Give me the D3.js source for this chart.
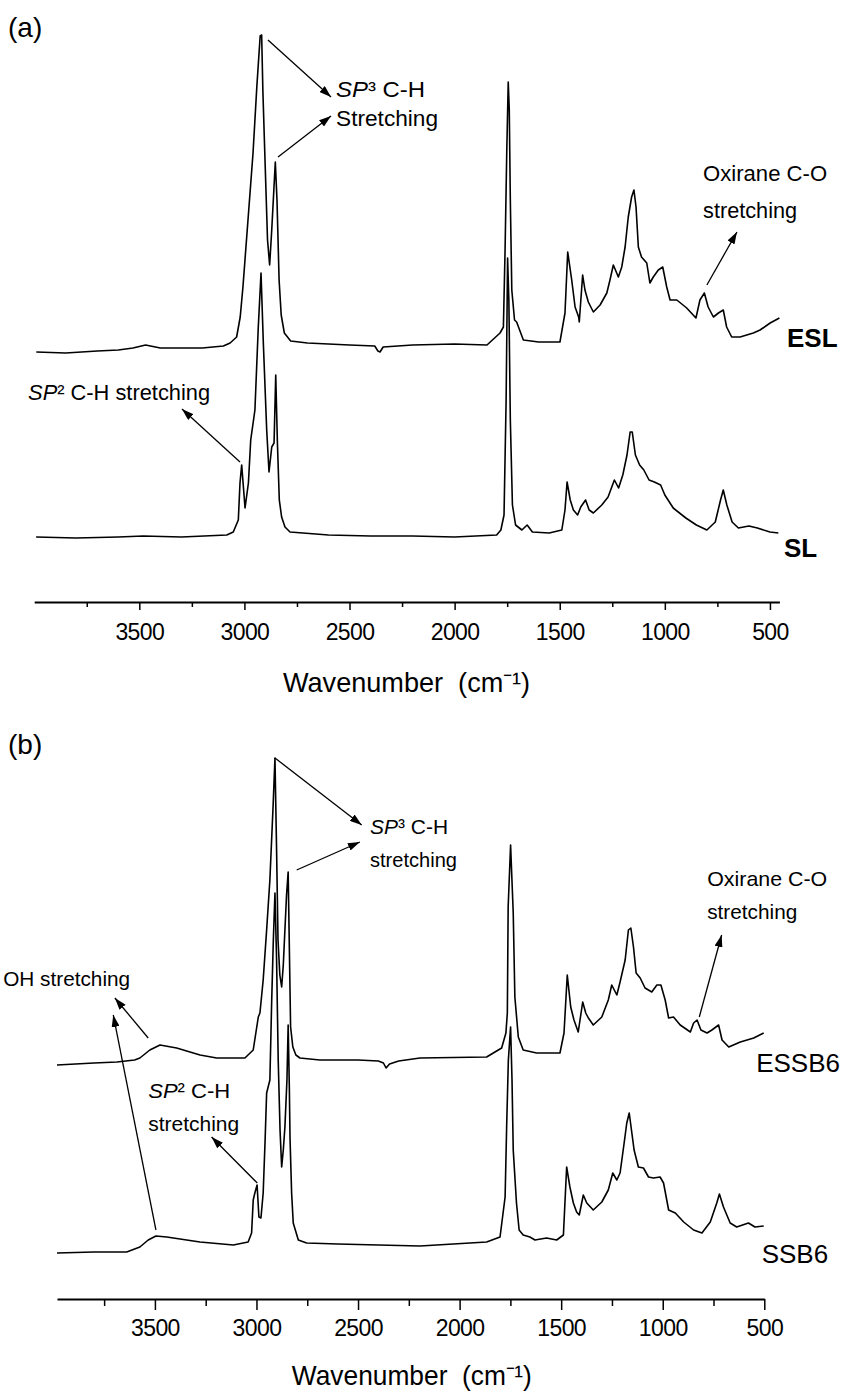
<!DOCTYPE html>
<html>
<head>
<meta charset="utf-8">
<script src="https://cdn.jsdelivr.net/npm/d3@7"></script>
<style>
  body { margin: 0; background: #fff; }
  svg text { font-family: "Liberation Sans", Arial, Helvetica, sans-serif; fill: #000; white-space: pre; }
</style>
</head>
<body>
<svg id="chart" width="843" height="1392"></svg>
<script>
// ---------------- DATA (wavenumber cm^-1, stacked absorbance a.u.) ----------------
const majorTicks = [3500, 3000, 2500, 2000, 1500, 1000, 500];
const minorTicks = [3750, 3250, 2750, 2250, 1750, 1250, 750];

const ESL = [[3990,2.50],[3850,2.49],[3700,2.51],[3600,2.52],[3530,2.54],[3470,2.57],[3400,2.54],[3200,2.54],[3100,2.56],[3068,2.59],[3037,2.65],[3020,2.85],[3007,3.15],[2983,3.82],[2959,4.49],[2941,5.15],[2925,5.66],[2918,5.67],[2912,5.10],[2905,4.62],[2890,3.62],[2880,3.37],[2870,3.72],[2860,4.12],[2853,4.40],[2845,4.02],[2835,3.22],[2825,2.87],[2810,2.69],[2780,2.61],[2700,2.59],[2500,2.57],[2380,2.56],[2365,2.51],[2355,2.50],[2340,2.55],[2200,2.57],[2000,2.58],[1846,2.57],[1784,2.69],[1768,2.75],[1760,3.52],[1752,4.50],[1745,5.20],[1740,4.92],[1735,4.02],[1728,3.12],[1715,2.82],[1705,2.80],[1673,2.62],[1600,2.60],[1499,2.60],[1475,2.89],[1462,3.50],[1443,3.22],[1427,2.95],[1410,2.85],[1407,2.80],[1391,3.27],[1380,3.12],[1364,3.00],[1340,2.90],[1308,2.97],[1276,3.09],[1261,3.22],[1245,3.37],[1221,3.25],[1205,3.35],[1189,3.55],[1174,3.85],[1158,4.05],[1147,4.12],[1137,3.95],[1126,3.55],[1111,3.45],[1086,3.39],[1071,3.19],[1055,3.25],[1031,3.32],[1010,3.35],[991,3.15],[975,3.02],[943,3.02],[896,2.94],[852,2.84],[833,3.02],[812,3.09],[794,2.95],[769,2.85],[745,2.89],[722,2.92],[706,2.75],[682,2.65],[642,2.65],[579,2.69],[547,2.72],[499,2.79],[455,2.84]];

const SL = [[3991,0.65],[3800,0.64],[3600,0.65],[3481,0.66],[3300,0.65],[3084,0.67],[3053,0.70],[3029,0.82],[3021,1.19],[3013,1.37],[2997,0.94],[2981,1.19],[2970,1.62],[2950,1.92],[2934,2.75],[2921,3.29],[2910,2.59],[2894,1.72],[2883,1.30],[2870,1.55],[2859,1.59],[2851,2.27],[2843,1.59],[2834,1.02],[2823,0.85],[2807,0.75],[2783,0.70],[2600,0.67],[2400,0.66],[2200,0.66],[2000,0.65],[1800,0.67],[1780,0.72],[1765,0.87],[1755,2.02],[1748,3.44],[1742,3.02],[1735,1.82],[1725,0.97],[1710,0.77],[1680,0.72],[1655,0.77],[1630,0.70],[1550,0.69],[1490,0.72],[1475,0.92],[1465,1.20],[1450,1.02],[1435,0.92],[1415,0.87],[1400,0.95],[1377,1.02],[1360,0.92],[1340,0.89],[1300,0.97],[1270,1.05],[1240,1.22],[1220,1.14],[1200,1.27],[1180,1.47],[1165,1.70],[1155,1.70],[1140,1.47],[1120,1.37],[1100,1.32],[1075,1.22],[1050,1.20],[1020,1.17],[1000,1.07],[960,0.94],[900,0.84],[850,0.77],[800,0.72],[760,0.80],[735,1.02],[722,1.12],[705,0.97],[680,0.80],[650,0.74],[600,0.76],[560,0.74],[500,0.70],[460,0.69]];

const ESSB6 = [[3982,2.34],[3800,2.36],[3687,2.37],[3600,2.39],[3574,2.41],[3525,2.49],[3475,2.54],[3393,2.51],[3278,2.44],[3196,2.41],[3057,2.41],[3016,2.49],[2991,2.82],[2983,2.86],[2967,3.19],[2950,3.69],[2934,4.19],[2918,4.94],[2909,5.41],[2901,4.49],[2894,3.59],[2885,3.24],[2876,3.12],[2868,3.34],[2860,3.69],[2852,4.04],[2844,4.27],[2838,3.49],[2832,2.72],[2821,2.52],[2806,2.44],[2786,2.41],[2688,2.39],[2500,2.39],[2400,2.38],[2375,2.36],[2362,2.31],[2345,2.35],[2300,2.38],[2195,2.41],[1867,2.42],[1793,2.51],[1772,2.66],[1765,2.86],[1761,3.92],[1749,4.54],[1736,3.86],[1728,3.02],[1711,2.62],[1687,2.49],[1621,2.46],[1506,2.46],[1486,2.66],[1470,3.24],[1453,2.92],[1437,2.79],[1416,2.67],[1394,2.97],[1379,2.86],[1366,2.81],[1342,2.74],[1300,2.82],[1268,2.99],[1251,3.14],[1226,3.04],[1210,3.17],[1185,3.39],[1169,3.69],[1157,3.71],[1144,3.52],[1131,3.26],[1111,3.21],[1087,3.11],[1054,3.07],[1029,3.14],[1009,3.14],[988,2.99],[971,2.81],[947,2.82],[914,2.74],[864,2.67],[848,2.76],[831,2.79],[812,2.69],[782,2.66],[758,2.69],[725,2.74],[708,2.59],[675,2.52],[618,2.57],[552,2.61],[503,2.66]];

const SSB6 = [[3982,0.46],[3800,0.47],[3639,0.47],[3574,0.52],[3533,0.59],[3495,0.63],[3442,0.62],[3278,0.57],[3114,0.54],[3041,0.57],[3024,0.66],[3016,0.99],[3008,1.06],[2997,1.14],[2988,0.82],[2978,0.81],[2967,1.06],[2958,1.56],[2950,2.06],[2934,2.19],[2925,2.99],[2917,3.59],[2909,4.06],[2901,3.39],[2893,2.39],[2884,1.69],[2876,1.32],[2868,1.49],[2860,1.72],[2850,2.19],[2844,2.74],[2838,2.09],[2835,1.62],[2827,1.06],[2819,0.76],[2794,0.59],[2753,0.56],[2600,0.55],[2400,0.54],[2195,0.53],[2031,0.55],[1867,0.57],[1801,0.62],[1776,1.02],[1768,1.76],[1760,2.39],[1749,2.72],[1742,2.19],[1736,1.49],[1720,0.96],[1707,0.69],[1687,0.64],[1654,0.62],[1629,0.59],[1572,0.61],[1522,0.59],[1489,0.64],[1473,1.32],[1457,1.12],[1440,0.96],[1424,0.87],[1411,0.84],[1391,1.04],[1374,0.96],[1342,0.89],[1300,0.97],[1268,1.09],[1246,1.26],[1226,1.19],[1210,1.26],[1190,1.56],[1177,1.76],[1165,1.86],[1152,1.66],[1141,1.49],[1120,1.32],[1095,1.31],[1070,1.22],[1046,1.21],[1013,1.22],[996,1.16],[971,0.89],[938,0.86],[897,0.77],[848,0.69],[807,0.66],[766,0.77],[734,0.96],[721,1.05],[701,0.92],[668,0.76],[636,0.72],[578,0.76],[546,0.72],[503,0.73]];

const seriesNamesA = ["ESL", "SL"];
const seriesNamesB = ["ESSB6", "SSB6"];
const axisTitle = "Wavenumber\u00a0\u00a0(cm\u207B\u00B9)";

// ---------------- LAYOUT ----------------
const svg = d3.select("#chart");
const defs = svg.append("defs");
defs.append("marker")
  .attr("id", "arrow").attr("viewBox", "0 0 12 8")
  .attr("refX", 12).attr("refY", 4)
  .attr("markerWidth", 12).attr("markerHeight", 8)
  .attr("markerUnits", "userSpaceOnUse").attr("orient", "auto")
  .append("path").attr("d", "M0,0L12,4L0,8Z").attr("fill", "#000");

const panels = [
  {
    label: "(a)", labelY: 37,
    xDomain: [4000, 455], xRange: [34.2, 779.4], axisY: 602,
    majorSize: 8, minorSize: 5, tickPad: 14,
    titleWn: 2229, titleDy: 90, titleWidth: 247,
    series: [ESL, SL],
    texts: [
      { wn: 2564, v: 5.05, size: 22, width: 89, parts: [{t:"SP", i:true},{t:"\u00B3 C-H"}] },
      { wn: 2564, v: 4.76, size: 22, width: 102, parts: [{t:"Stretching"}] },
      { wn: 4029, v: 2.02, size: 22, width: 182, parts: [{t:"SP", i:true},{t:"\u00B2 C-H stretching"}] },
      { wn: 818, v: 4.21, size: 22, width: 124, parts: [{t:"Oxirane C-O"}] },
      { wn: 818, v: 3.84, size: 22, width: 94, parts: [{t:"stretching"}] },
      { wn: 419, v: 2.55, size: 26, bold: true, parts: [{t: seriesNamesA[0]}] },
      { wn: 433, v: 0.45, size: 26, bold: true, parts: [{t: seriesNamesA[1]}] }
    ],
    arrows: [
      [[2888, 5.62], [2588, 5.05]],
      [[2840, 4.45], [2588, 4.86]],
      [[3021, 1.40], [3297, 1.93]],
      [[800, 3.17], [657, 3.70]]
    ]
  },
  {
    label: "(b)", labelY: 754,
    xDomain: [3982, 500], xRange: [57, 764.3], axisY: 1299,
    majorSize: 11, minorSize: 7, tickPad: 10,
    titleWn: 2235, titleDy: 86, titleWidth: 240,
    series: [ESSB6, SSB6],
    texts: [
      { wn: 2441, v: 4.65, size: 21, width: 78, parts: [{t:"SP", i:true},{t:"\u00B3 C-H"}] },
      { wn: 2441, v: 4.32, size: 21, width: 87, parts: [{t:"stretching"}] },
      { wn: 781, v: 4.13, size: 21, width: 120, parts: [{t:"Oxirane C-O"}] },
      { wn: 781, v: 3.80, size: 21, width: 90, parts: [{t:"stretching"}] },
      { wn: 4247, v: 3.13, size: 21, width: 127, parts: [{t:"OH stretching"}] },
      { wn: 3533, v: 2.015, size: 21, width: 82, parts: [{t:"SP", i:true},{t:"\u00B2 C-H"}] },
      { wn: 3533, v: 1.68, size: 21, width: 91, parts: [{t:"stretching"}] },
      { wn: 540, v: 2.27, size: 26, parts: [{t: seriesNamesB[0]}] },
      { wn: 513, v: 0.36, size: 26, parts: [{t: seriesNamesB[1]}] }
    ],
    arrows: [
      [[2909, 5.41], [2482, 4.74]],
      [[2802, 4.29], [2491, 4.57]],
      [[820, 2.82], [710, 3.64]],
      [[3533, 2.61], [3697, 3.01]],
      [[3495, 0.69], [3705, 2.84]],
      [[2996, 1.16], [3221, 1.62]]
    ]
  }
];

function addText(g, x, y, cfg) {
  const t = g.append("text").attr("x", x).attr("y", y)
    .style("font-size", cfg.size + "px");
  if (cfg.bold) t.style("font-weight", "bold");
  if (cfg.anchor) t.attr("text-anchor", cfg.anchor);
  cfg.parts.forEach(p => {
    const ts = t.append("tspan").text(p.t);
    if (p.i) ts.style("font-style", "italic");
  });
  if (cfg.width) t.attr("textLength", cfg.width).attr("lengthAdjust", "spacingAndGlyphs");
  return t;
}

panels.forEach(P => {
  const g = svg.append("g");
  const x = d3.scaleLinear().domain(P.xDomain).range(P.xRange);
  const y = d3.scaleLinear().domain([0, 5.7]).range([P.axisY, P.axisY - 570]);

  // panel letter
  g.append("text").attr("x", 8).attr("y", P.labelY)
    .style("font-size", "28px").text(P.label);

  // spectra
  const line = d3.line().x(d => x(d[0])).y(d => y(d[1]));
  g.selectAll("path.spec").data(P.series).join("path")
    .attr("class", "spec")
    .attr("d", line)
    .attr("fill", "none").attr("stroke", "#000")
    .attr("stroke-width", 1.6).attr("stroke-linejoin", "round");

  // axis (major)
  const axMajor = d3.axisBottom(x).tickValues(majorTicks)
    .tickFormat(d3.format("d")).tickSize(P.majorSize).tickSizeOuter(0).tickPadding(P.tickPad);
  const ga = g.append("g").attr("transform", `translate(0,${P.axisY})`).call(axMajor);
  ga.select(".domain").attr("stroke", "#000").attr("stroke-width", 2);
  ga.selectAll(".tick line").attr("stroke", "#000").attr("stroke-width", 1.5);
  ga.selectAll(".tick text").style("font-size", "23px").style("letter-spacing", "-0.6px")
    .attr("fill", "#000");

  // axis (minor)
  const axMinor = d3.axisBottom(x).tickValues(minorTicks)
    .tickFormat("").tickSize(P.minorSize).tickSizeOuter(0);
  const gm = g.append("g").attr("transform", `translate(0,${P.axisY})`).call(axMinor);
  gm.select(".domain").remove();
  gm.selectAll(".tick line").attr("stroke", "#000").attr("stroke-width", 1.5);

  // axis title
  addText(g, x(P.titleWn), P.axisY + P.titleDy, {
    size: 28, width: P.titleWidth, anchor: "middle", parts: [{t: axisTitle}]
  });

  // annotation text
  P.texts.forEach(tc => addText(g, x(tc.wn), y(tc.v), tc));

  // arrows
  g.selectAll("line.arr").data(P.arrows).join("line")
    .attr("class", "arr")
    .attr("x1", d => x(d[0][0])).attr("y1", d => y(d[0][1]))
    .attr("x2", d => x(d[1][0])).attr("y2", d => y(d[1][1]))
    .attr("stroke", "#000").attr("stroke-width", 1.3)
    .attr("marker-end", "url(#arrow)");
});
</script>
</body>
</html>
